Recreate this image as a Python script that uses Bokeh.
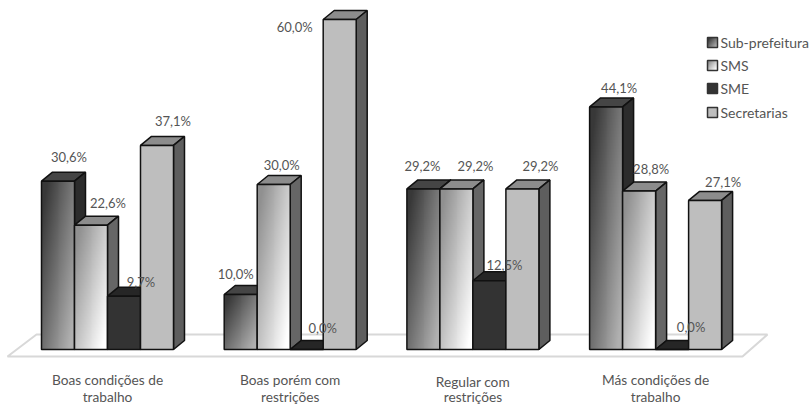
import numpy as np
from bokeh.plotting import figure
from bokeh.models import Range1d
from bokeh.core.properties import value
from bokeh.embed import file_html
from bokeh.resources import INLINE

categories = [["Boas condições de", "trabalho"], ["Boas porém com", "restrições"],
              ["Regular com", "restrições"], ["Más condições de", "trabalho"]]
series = ["Sub-prefeitura", "SMS", "SME", "Secretarias"]
sub_prefeitura = [30.6, 10.0, 29.2, 44.1]
sms = [22.6, 30.0, 29.2, 28.8]
sme = [9.7, 0.0, 12.5, 0.0]
secretarias = [37.1, 60.0, 29.2, 27.1]
all_values = [sub_prefeitura, sms, sme, secretarias]

# label offsets (px) from the bar's top centre, per series then group
label_dx = [[11, -5, -1, 13], [17, 8, 19, 12], [17, 16, 15, 19], [16, -45, 18, 18]]
label_dy = [[24, 21, 23, 19], [22, 20, 23, 22], [14, 22, 16, 23], [24, -7, 23, 18]]

W, H = 809, 404
PX_X = 182.7      # px per group
PX_Y = 5.5        # px per percent
X0, Y0 = 107, 349  # first group centre, baseline
BAR = 33 / PX_X
DX, DY = 11 / PX_X, 9 / PX_Y


def rx(px):
    return (px - X0) / PX_X


def ry(py):
    return (Y0 - py) / PX_Y


p = figure(width=W, height=H, output_backend="svg", toolbar_location=None,
           x_range=Range1d(-X0 / PX_X, (W - X0) / PX_X),
           y_range=Range1d(-(H - Y0) / PX_Y, Y0 / PX_Y),
           min_border=0, outline_line_color=None, background_fill_color="white",
           border_fill_color="white")
p.axis.visible = False
p.grid.visible = False

FLOOR = "#d8d8d8"
p.patch([rx(7), rx(36), rx(767), rx(742)], [ry(356), ry(334), ry(334), ry(356)],
        fill_color="white", line_color=FLOOR, line_width=2)

styles = [
    dict(grad=((0x38, 0x38, 0x38), (0xb0, 0xb0, 0xb0)), top="#454545", side="#2c2c2c"),
    dict(grad=((0x90, 0x90, 0x90), (0xff, 0xff, 0xff)), top="#8c8c8c", side="#666666"),
    dict(grad=((0x33, 0x33, 0x33), (0x33, 0x33, 0x33)), top="#262626", side="#222222"),
    dict(grad=((0xbe, 0xbe, 0xbe), (0xbe, 0xbe, 0xbe)), top="#8c8c8c", side="#5e5e5e"),
]
INK = "#111111"


def gradient(c0, c1, w=34, h=80):
    u = np.linspace(0, 1, w)[None, :]
    v = np.linspace(0, 1, h)[:, None]   # row 0 = bottom in Bokeh
    t = np.clip(0.65 * u + 0.55 * (1 - v) - 0.1, 0, 1)
    img = np.zeros((h, w), dtype=np.uint32)
    view = img.view(dtype=np.uint8).reshape((h, w, 4))
    for k in range(3):
        view[:, :, k] = (c0[k] + (c1[k] - c0[k]) * t).astype(np.uint8)
    view[:, :, 3] = 255
    return img


def draw_bar(x0, x1, y0, y1, st, dx=DX, dy=DY):
    p.patch([x0, x0 + dx, x1 + dx, x1], [y1, y1 + dy, y1 + dy, y1],
            fill_color=st["top"], line_color=INK, line_width=1.5)
    p.patch([x1, x1 + dx, x1 + dx, x1], [y0, y0 + dy, y1 + dy, y1],
            fill_color=st["side"], line_color=INK, line_width=1.5)
    if y1 > y0:
        p.image_rgba(image=[gradient(*st["grad"])], x=x0, y=y0, dw=x1 - x0, dh=y1 - y0)
        p.quad(left=x0, right=x1, bottom=y0, top=y1, fill_color=None,
               line_color=INK, line_width=1.5)
    else:
        p.line([x0, x1], [y0, y0], line_color=INK, line_width=1.5)


for g in range(4):
    for s in range(4):
        x0 = g + (s - 2) * BAR
        draw_bar(x0, x0 + BAR, 0, all_values[s][g], styles[s])

TXT = "#555555"
FONT = value("Lato")
for s in range(4):
    for g in range(4):
        v = all_values[s][g]
        xc = g + (s - 1.5) * BAR
        p.text([xc + label_dx[s][g] / PX_X], [v + label_dy[s][g] / PX_Y],
               text=[f"{v:.1f}%".replace(".", ",")], text_font=FONT, text_font_size="13px",
               text_color=TXT, text_align="center", text_baseline="middle")

line_y = [[379, 396], [379, 396], [381, 396], [379, 396]]
for g, lines in enumerate(categories):
    for ln, txt in enumerate(lines):
        p.text([g], [ry(line_y[g][ln])], text=[txt], text_font=FONT,
               text_font_size="13.7px", text_color=TXT, text_align="center",
               text_baseline="middle")

legend_y = [42, 65, 88, 112]
for s, name in enumerate(series):
    yc = legend_y[s]
    p.image_rgba(image=[gradient(*styles[s]["grad"], w=10, h=10)], x=rx(707), y=ry(yc + 5),
                 dw=10 / PX_X, dh=10 / PX_Y)
    p.quad(left=rx(707), right=rx(717), bottom=ry(yc + 5), top=ry(yc - 5), fill_color=None,
           line_color="#333333", line_width=1.5)
    p.text([rx(720)], [ry(yc)], text=[name], text_font=FONT, text_font_size="14px",
           text_color=TXT, text_align="left", text_baseline="middle")

open("out.html", "w").write(file_html(p, INLINE))
